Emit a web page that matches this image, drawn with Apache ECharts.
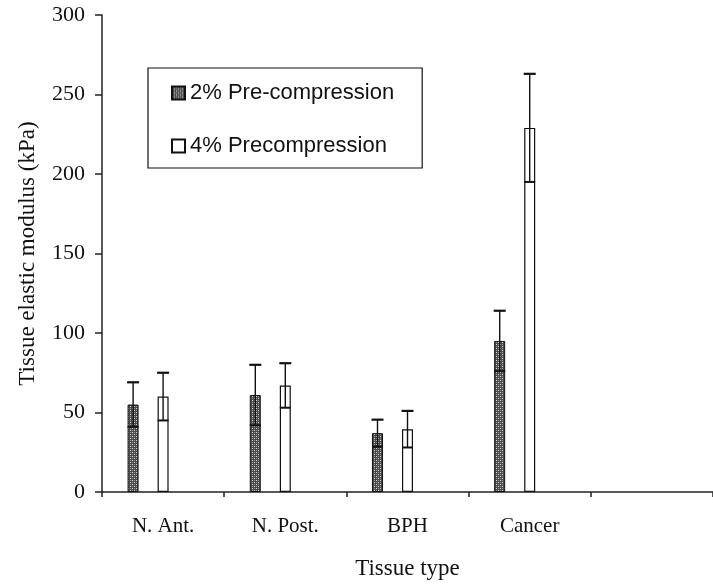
<!DOCTYPE html>
<html>
<head>
<meta charset="utf-8">
<script src="https://cdn.jsdelivr.net/npm/echarts@6/dist/echarts.min.js"></script>
<style>html,body{margin:0;padding:0;background:#fff;}#c{width:713px;height:585px;}</style>
</head>
<body>
<div id="c"></div>
<script>
// ---- data ----
const categories = ['N. Ant.', 'N. Post.', 'BPH', 'Cancer', ''];
const seriesNames = ['2% Pre-compression', '4% Precompression'];
const mean2 = [55, 61, 37, 95, null];
const err2  = [14, 19, 8.5, 19, null];
const mean4 = [60, 67, 39.5, 229, null];
const err4  = [15, 14, 11.5, 34, null];
const yTicks = { min: 0, max: 300, interval: 50 };

// ---- pattern for dark bars ----
function makePattern() {
  const c = document.createElement('canvas');
  c.width = 4; c.height = 4;
  const g = c.getContext('2d');
  g.fillStyle = '#4a4a4a'; g.fillRect(0, 0, 4, 4);
  g.fillStyle = '#d8d8d8';
  g.fillRect(0, 0, 1, 1); g.fillRect(2, 2, 1, 1);
  g.fillStyle = '#9a9a9a';
  g.fillRect(2, 0, 1, 1); g.fillRect(0, 2, 1, 1);
  return { image: c, repeat: 'repeat' };
}
const darkFill = makePattern();

function errRows(mean, err) {
  const rows = [];
  mean.forEach((m, i) => { if (m != null) rows.push([i, m - err[i], m + err[i]]); });
  return rows;
}
function errRenderer(offset) {
  return function (params, api) {
    const lo = api.coord([api.value(0), api.value(1)]);
    const hi = api.coord([api.value(0), api.value(2)]);
    const x = lo[0] + offset, hw = 6;
    return {
      type: 'group',
      children: [
        { type: 'line', shape: { x1: x, y1: lo[1], x2: x, y2: hi[1] }, style: { stroke: '#111', lineWidth: 1.4 } },
        { type: 'line', shape: { x1: x - hw, y1: hi[1], x2: x + hw, y2: hi[1] }, style: { stroke: '#111', lineWidth: 2.2 } },
        { type: 'line', shape: { x1: x - hw + 0.5, y1: lo[1], x2: x + hw - 0.5, y2: lo[1] }, style: { stroke: '#111', lineWidth: 2 } }
      ]
    };
  };
}

const serif = 'Liberation Serif';
const chart = echarts.init(document.getElementById('c'), null, { renderer: 'canvas' });
chart.setOption({
  animation: false,
  backgroundColor: '#fff',
  grid: { left: 102, right: -9, top: 15, bottom: 93 },
  legend: {
    data: seriesNames,
    orient: 'vertical',
    left: 148, top: 68,
    padding: [14, 28, 11, 23],
    itemGap: 31,
    itemWidth: 13, itemHeight: 13,
    itemTextGap: 5,
    icon: 'rect',
    backgroundColor: '#fff',
    borderColor: '#111', borderWidth: 1.2,
    textStyle: { fontFamily: 'Liberation Sans', fontSize: 22, color: '#111' }
  },
  xAxis: {
    type: 'category',
    data: categories,
    name: 'Tissue type',
    nameLocation: 'middle',
    nameGap: 65,
    nameTextStyle: { fontFamily: serif, fontSize: 23, color: '#111' },
    axisLine: { lineStyle: { color: '#222', width: 1.5 } },
    axisTick: { show: true, length: 5, lineStyle: { color: '#222', width: 1.5 } },
    axisLabel: { fontFamily: serif, fontSize: 21, color: '#111', margin: 24 },
    splitLine: { show: false }
  },
  yAxis: {
    type: 'value',
    min: yTicks.min, max: yTicks.max, interval: yTicks.interval,
    name: 'Tissue elastic modulus (kPa)',
    nameLocation: 'middle',
    nameGap: 63,
    nameTextStyle: { fontFamily: serif, fontSize: 23, color: '#111' },
    axisLine: { show: true, lineStyle: { color: '#222', width: 1.5 } },
    axisTick: { show: true, length: 7, lineStyle: { color: '#222', width: 1.5 } },
    axisLabel: { fontFamily: serif, fontSize: 22, color: '#111', margin: 17 },
    splitLine: { show: false }
  },
  series: [
    {
      name: seriesNames[0], type: 'bar', data: mean2,
      barWidth: 11, barGap: '173%',
      itemStyle: { color: darkFill, borderColor: '#111', borderWidth: 1 }
    },
    {
      name: seriesNames[1], type: 'bar', data: mean4,
      barWidth: 11, barGap: '173%',
      itemStyle: { color: '#fff', borderColor: '#111', borderWidth: 1.2 }
    },
    {
      name: 'spacer', type: 'bar', data: categories.map(() => null),
      barWidth: 11, barGap: '173%',
      itemStyle: { color: 'transparent' }, silent: true
    },
    {
      type: 'custom', renderItem: errRenderer(-30), data: errRows(mean2, err2), z: 5
    },
    {
      type: 'custom', renderItem: errRenderer(0), data: errRows(mean4, err4), z: 5
    }
  ]
});
</script>
</body>
</html>
